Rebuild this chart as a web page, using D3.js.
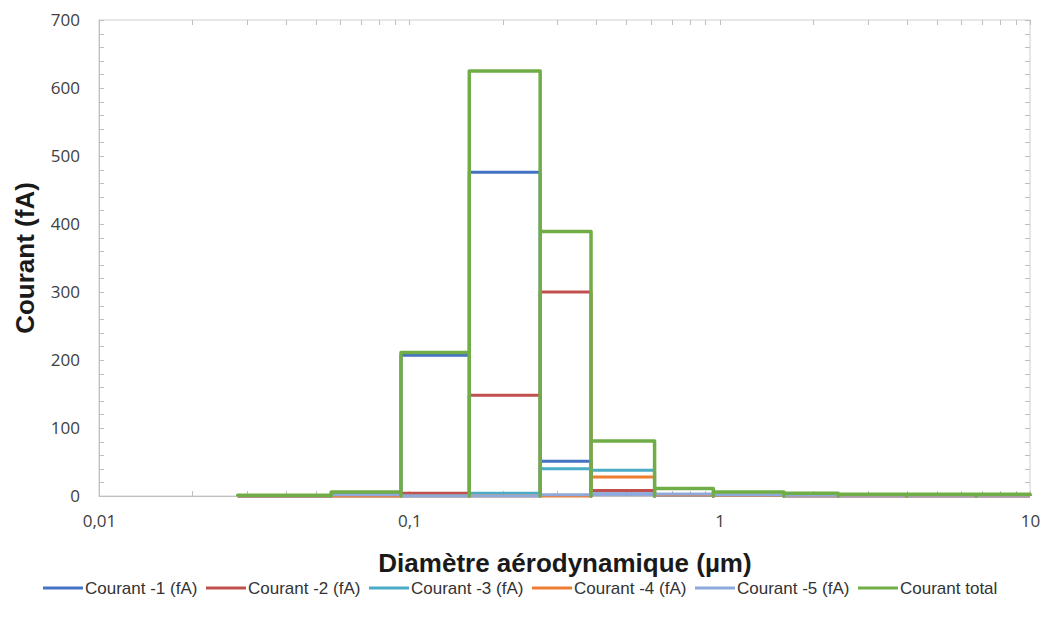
<!DOCTYPE html>
<html>
<head>
<meta charset="utf-8">
<script src="https://cdn.jsdelivr.net/npm/d3@7"></script>
<style>
  html, body { margin: 0; padding: 0; background: #fff; }
  svg { display: block; }
</style>
</head>
<body>
<svg id="chart" width="1046" height="627"></svg>
<script>
// ---- Data ----
const binEdges = [0.028, 0.056, 0.094, 0.156, 0.264, 0.385, 0.617, 0.954, 1.61, 2.41, 4.0, 6.7, 10.0];
const seriesNames = ["Courant -1 (fA)", "Courant -2 (fA)", "Courant -3 (fA)", "Courant -4 (fA)", "Courant -5 (fA)", "Courant total"];
const courant1 = [0, 3, 207, 476, 51, 3, 2, 1, 0.5, 0.3, 0.3, 0.3];
const courant2 = [0, 0.5, 4, 148, 300, 8, 2, 1, 0.5, 0.3, 0.3, 0.3];
const courant3 = [0, 0.5, 0.5, 4, 40, 38, 2, 1, 0.5, 0.3, 0.3, 0.3];
const courant4 = [0, 0, 0, 0, 0, 28, 2, 1, 0.5, 0.3, 0.3, 0.3];
const courant5 = [0.5, 2, 0, 0, 2, 3, 3, 2, 1, 1, 1, 1];
const courantTotal = [1, 6, 211, 625, 389, 81, 11, 6, 4, 2.5, 2.5, 2.5];
const yTicks = [0, 100, 200, 300, 400, 500, 600, 700];
const xTicks = [0.01, 0.1, 1, 10];
const xTickLabels = ["0,01", "0,1", "1", "10"];
const colors = ["#4472C4", "#C0504D", "#4BACC6", "#ED7D31", "#8EA9DB", "#70AD47"];

const seriesValues = [courant1, courant2, courant3, courant4, courant5, courantTotal];

// ---- Layout ----
const svg = d3.select("#chart");
const m = { left: 99, right: 1030, top: 20, bottom: 496 };

const x = d3.scaleLog().domain([0.01, 10]).range([m.left, m.right]);
const y = d3.scaleLinear().domain([0, 700]).range([m.bottom, m.top]);

const tickColor = "#bfbfbf";
const labelFont = "'Open Sans', 'Noto Sans', sans-serif";

// plot area frame
svg.append("rect")
  .attr("x", m.left).attr("y", m.top)
  .attr("width", m.right - m.left).attr("height", m.bottom - m.top)
  .attr("fill", "none").attr("stroke", "#d0d0d0").attr("stroke-width", 1);

// minor ticks (every 20) on left and right, inward
const yMinor = d3.range(0, 701, 20);
const tl = 5;
const ticksG = svg.append("g").attr("stroke", tickColor).attr("stroke-width", 1);
yMinor.forEach(v => {
  const yy = Math.round(y(v)) + 0.5;
  ticksG.append("line").attr("x1", m.left).attr("x2", m.left + tl).attr("y1", yy).attr("y2", yy);
  ticksG.append("line").attr("x1", m.right - tl).attr("x2", m.right).attr("y1", yy).attr("y2", yy);
});
// log minor ticks top and bottom, inward
const xMinor = [];
[0.01, 0.1, 1].forEach(d => { for (let k = 1; k <= 9; k++) xMinor.push(d * k); });
xMinor.push(10);
xMinor.forEach(v => {
  const xx = Math.round(x(v)) + 0.5;
  ticksG.append("line").attr("x1", xx).attr("x2", xx).attr("y1", m.bottom - tl).attr("y2", m.bottom);
  ticksG.append("line").attr("x1", xx).attr("x2", xx).attr("y1", m.top).attr("y2", m.top + tl);
});

// axes lines
svg.append("line").attr("x1", m.left + 0.5).attr("x2", m.left + 0.5).attr("y1", m.top).attr("y2", m.bottom)
  .attr("stroke", "#bfbfbf");
svg.append("line").attr("x1", m.left).attr("x2", m.right).attr("y1", m.bottom + 0.5).attr("y2", m.bottom + 0.5)
  .attr("stroke", "#bfbfbf");

// y tick labels
const yAxis = d3.axisLeft(y).tickValues(yTicks).tickSize(0).tickPadding(19).tickFormat(d3.format("d"));
const gy = svg.append("g").attr("transform", `translate(${m.left},0)`).call(yAxis);
gy.select(".domain").remove();
gy.selectAll("text").attr("font-family", labelFont).attr("font-size", 17).attr("fill", "#404040");

// x tick labels
const xAxis = d3.axisBottom(x).tickValues(xTicks).tickSize(0).tickPadding(19)
  .tickFormat((d, i) => xTickLabels[i]);
const gx = svg.append("g").attr("transform", `translate(0,${m.bottom})`).call(xAxis);
gx.select(".domain").remove();
gx.selectAll("text").attr("font-family", labelFont).attr("font-size", 17).attr("fill", "#404040");

// series: each bin drawn as an open box (up from 0, across, down to 0), like the reference
const line = d3.line().x(d => x(d[0])).y(d => y(d[1]));
seriesValues.forEach((vals, si) => {
  const pts = [];
  vals.forEach((v, i) => {
    pts.push([binEdges[i], 0], [binEdges[i], v], [binEdges[i + 1], v], [binEdges[i + 1], 0]);
  });
  svg.append("path")
    .attr("d", line(pts))
    .attr("fill", "none")
    .attr("stroke", colors[si])
    .attr("stroke-width", si === 5 ? 3.5 : 3)
    .attr("stroke-linejoin", "round");
});

// axis titles
svg.append("text")
  .attr("transform", `translate(34,${(m.top + m.bottom) / 2}) rotate(-90)`)
  .attr("text-anchor", "middle")
  .attr("font-family", "'Liberation Sans', Arial, sans-serif")
  .attr("font-weight", "bold").attr("font-size", 26).attr("fill", "#1a1a1a")
  .text("Courant (fA)");
svg.append("text")
  .attr("x", 565).attr("y", 572)
  .attr("text-anchor", "middle")
  .attr("font-family", "'Liberation Sans', Arial, sans-serif")
  .attr("font-weight", "bold").attr("font-size", 26).attr("fill", "#1a1a1a")
  .text("Diamètre aérodynamique (µm)");

// legend
const legend = svg.append("g").attr("transform", "translate(43,594)");
seriesNames.forEach((name, i) => {
  const g = legend.append("g").attr("transform", `translate(${i * 163},0)`);
  g.append("line").attr("x1", 0).attr("x2", 40).attr("y1", -6).attr("y2", -6)
    .attr("stroke", colors[i]).attr("stroke-width", 3);
  g.append("text").attr("x", 42).attr("y", 0)
    .attr("font-family", "'Liberation Sans', Arial, sans-serif")
    .attr("font-size", 17).attr("fill", "#333")
    .text(name);
});
</script>
</body>
</html>
